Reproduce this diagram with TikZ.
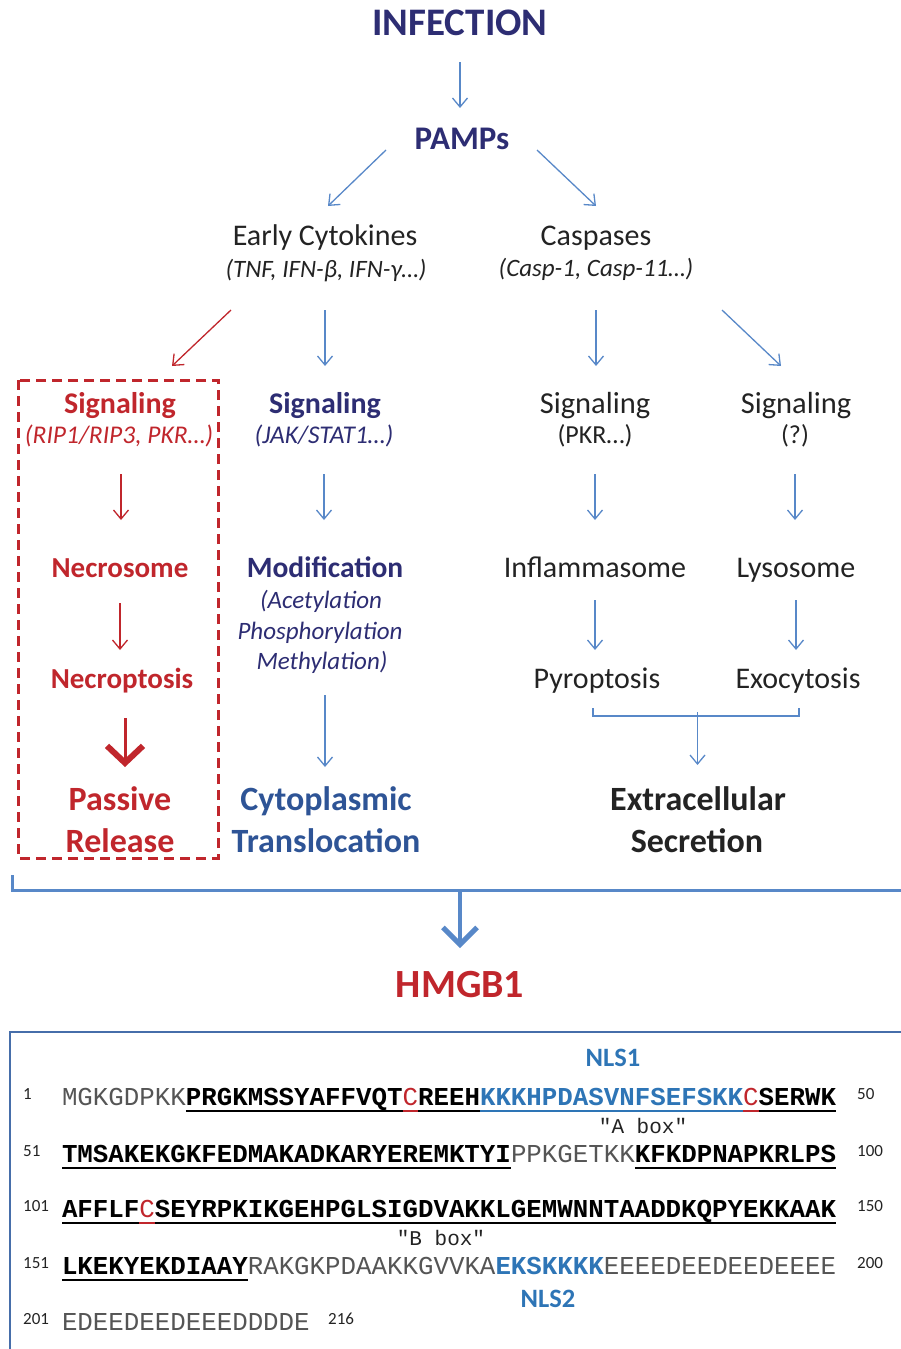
\documentclass[tikz,border=0pt]{standalone}
\usepackage{fontspec}
\setmainfont{Carlito}
\setmonofont{Liberation Mono}
\usetikzlibrary{arrows.meta,calc}
\definecolor{navy}{RGB}{45,45,115}
\definecolor{hred}{RGB}{192,38,44}
\definecolor{steel}{RGB}{46,84,150}
\definecolor{arrblue}{RGB}{88,136,200}
\definecolor{ink}{RGB}{35,35,35}
\definecolor{nlsblue}{RGB}{46,117,182}
\definecolor{boxblue}{RGB}{70,110,170}
\definecolor{seqgray}{RGB}{85,85,85}
\newcommand{\fsz}[1]{\fontsize{#1}{#1}\selectfont}
\newcommand{\seqfont}{\ttfamily\fsz{25.8}}
\tikzset{
  lbl/.style={inner sep=0pt, outer sep=0pt, anchor=base},
  arr/.style={-{Straight Barb[length=9pt,width=15pt]}, line width=1.3pt, arrblue},
  rarr/.style={arr, hred},
  fatarr/.style={-{Straight Barb[length=17pt,width=36pt,line width=6pt]}, line width=3pt, hred},
  bigarr/.style={-{Straight Barb[length=17pt,width=34pt,line width=5pt]}, line width=4.5pt, arrblue},
  aa/.style={inner sep=0pt, outer sep=0pt, anchor=base west, font=\seqfont, text=seqgray},
  aab/.style={aa, font=\seqfont\bfseries, text=black},
  cys/.style={aa, text=hred},
  nls/.style={aab, text=nlsblue},
  ul/.style={line width=2.4pt},
  num/.style={inner sep=0pt, anchor=base west, font=\fsz{17}, text=ink}
}
\begin{document}
\begin{tikzpicture}[x=1pt,y=-1pt]
\useasboundingbox (0,0) rectangle (901,1349);
% top of the cascade
\node[lbl, font=\fsz{39}\bfseries, text=navy] (inf) at (460,35) {INFECTION};
\node[lbl, font=\fsz{33}\bfseries, text=navy] (pamps) at (462,149) {PAMPs};
\node[lbl, font=\fsz{30}, text=ink] (ec) at (325,245) {Early Cytokines};
\node[lbl, font=\fsz{25}\itshape, text=ink] (ecsub) at (326,277) {(TNF, IFN-β, IFN-γ…)};
\node[lbl, font=\fsz{30}, text=ink] (casp) at (596,245) {Caspases};
\node[lbl, font=\fsz{25}\itshape, text=ink] (caspsub) at (596,276) {(Casp-1, Casp-11…)};
% signaling row
\node[lbl, font=\fsz{30}\bfseries, text=hred] (sigR) at (120,413) {Signaling};
\node[lbl, font=\fsz{25.5}\itshape, text=hred] (sigRsub) at (119,443) {(RIP1/RIP3, PKR…)};
\node[lbl, font=\fsz{30}\bfseries, text=navy] (sigN) at (325,413) {Signaling};
\node[lbl, font=\fsz{25.5}\itshape, text=navy] (sigNsub) at (324,443) {(JAK/STAT1…)};
\node[lbl, font=\fsz{30.5}, text=ink] (sigC) at (595,413) {Signaling};
\node[lbl, font=\fsz{26}, text=ink] (sigCsub) at (595,443) {(PKR…)};
\node[lbl, font=\fsz{30.5}, text=ink] (sigL) at (796,413) {Signaling};
\node[lbl, font=\fsz{26}, text=ink] (sigLsub) at (795,443) {(?)};
% middle rows
\node[lbl, font=\fsz{29}\bfseries, text=hred] (necro) at (120,577) {Necrosome};
\node[lbl, font=\fsz{29.5}\bfseries, text=navy] (modif) at (325,577) {Modification};
\node[lbl, font=\fsz{25}\itshape, text=navy] (mod1) at (321,608) {(Acetylation};
\node[lbl, font=\fsz{25}\itshape, text=navy] (mod2) at (320,639) {Phosphorylation};
\node[lbl, font=\fsz{25}\itshape, text=navy] (mod3) at (322,669) {Methylation)};
\node[lbl, font=\fsz{30}, text=ink] (infl) at (595,577) {Inflammasome};
\node[lbl, font=\fsz{30}, text=ink] (lyso) at (796,577) {Lysosome};
\node[lbl, font=\fsz{29}\bfseries, text=hred] (necrop) at (122,688) {Necroptosis};
\node[lbl, font=\fsz{30}, text=ink] (pyro) at (597,688) {Pyroptosis};
\node[lbl, font=\fsz{30}, text=ink] (exo) at (798,688) {Exocytosis};
% outcomes
\node[lbl, font=\fsz{34}\bfseries, text=hred] (passive) at (120,810) {Passive};
\node[lbl, font=\fsz{34}\bfseries, text=hred] (release) at (120,852) {Release};
\node[lbl, font=\fsz{34}\bfseries, text=steel] (cyto) at (326,810) {Cytoplasmic};
\node[lbl, font=\fsz{34}\bfseries, text=steel] (trans) at (326,852) {Translocation};
\node[lbl, font=\fsz{34}\bfseries, text=ink] (extra) at (698,810) {Extracellular};
\node[lbl, font=\fsz{34}\bfseries, text=ink] (secr) at (697,852) {Secretion};
\node[lbl, font=\fsz{40}\bfseries, text=hred] (hmgb) at (460,997) {HMGB1};
\draw[hred, line width=3pt, dash pattern=on 10pt off 6pt] (18,380) rectangle (218,858);
% arrows
\draw[arr] ([yshift=-27pt]inf.base) -- ([yshift=41pt]inf.base |- pamps.base);
\draw[arr] ([xshift=-76pt,yshift=-1pt]pamps.base) -- ([xshift=3pt,yshift=39pt]ec.base);
\draw[arr] ([xshift=75pt,yshift=-1pt]pamps.base) -- ([yshift=39pt]casp.base);
\draw[rarr] ([xshift=-95pt,yshift=-33pt]ecsub.base) -- ([xshift=52pt,yshift=47pt]sigR.base);
\draw[arr] ([xshift=-1pt,yshift=-33pt]ecsub.base) -- ([xshift=-1pt,yshift=47pt]ecsub.base |- sigN.base);
\draw[arr] ([yshift=-34pt]caspsub.base) -- ([yshift=47pt]caspsub.base |- sigC.base);
\draw[arr] ([xshift=126pt,yshift=-34pt]caspsub.base) -- ([xshift=-15pt,yshift=47pt]sigL.base);
\draw[rarr] ([xshift=2pt,yshift=-31pt]sigRsub.base) -- ([xshift=2pt,yshift=57pt]sigRsub.base |- necro.base);
\foreach \a/\b in {sigNsub/modif,sigCsub/infl,sigLsub/lyso}
  \draw[arr] ([yshift=-31pt]\a.base) -- ([yshift=57pt]\a.base |- \b.base);
\draw[rarr] ([yshift=-26pt]necro.base) -- ([yshift=38pt]necro.base |- necrop.base);
\foreach \a/\b in {infl/pyro,lyso/exo}
  \draw[arr] ([yshift=-23pt]\a.base) -- ([yshift=38pt]\a.base |- \b.base);
\draw[arr] ([xshift=3pt,yshift=-26pt]mod3.base) -- ([xshift=3pt,yshift=43pt]mod3.base |- cyto.base);
\draw[fatarr] ([xshift=3pt,yshift=-30pt]necrop.base) -- ([xshift=3pt,yshift=43pt]necrop.base |- passive.base);
% bracket under pyroptosis / exocytosis
\coordinate (brk) at ($(pyro.base)!0.5!(exo.base)$);
\draw[arrblue, line width=1.3pt] ([xshift=-4pt,yshift=-20pt]pyro.base) -- ++(0,8) -- ([xshift=1pt,yshift=-28pt]exo.base) -- ++(0,-8);
\draw[arr] ([yshift=-24pt]brk) -- ([yshift=45pt]brk |- extra.base);
% big bracket to HMGB1
\coordinate (hub) at (460,890);
\draw[arrblue, line width=3pt] (12,875) |- (905,890);
\draw[bigarr] (hub) -- ([yshift=49pt]hub |- hmgb.base);
% sequence box
\draw[boxblue, line width=2.5pt] (10,1360) |- (910,1032);
\node[lbl, font=\fsz{26.5}\bfseries, text=nlsblue] (nls1) at (613,1066) {NLS1};
\node[lbl, font=\fsz{26.5}\bfseries, text=nlsblue] (nls2) at (548,1307) {NLS2};
\node[lbl, font=\ttfamily\fsz{21}, text=ink] (abox) at (643,1133) {"A box"};
\node[lbl, font=\ttfamily\fsz{21}, text=ink] (bbox) at (441,1245) {"B box"};
\foreach \n/\y in {1/1099,51/1156,101/1211,151/1268,201/1324}
  \node[num] (l\n) at (23,\y) {\n};
\foreach \n/\x/\y in {50/857/1099,100/857/1156,150/857/1211,200/857/1268,216/328/1324}
  \node[num] (r\n) at (\x,\y) {\n};
% residues 1-50
\node[aa] (r1a) at (62,1105) {MGKGDPKK};
\node[aab] (r1b) at (r1a.base east) {PRGKMSSYAFFVQT};
\node[cys] (r1c) at (r1b.base east) {C};
\node[aab] (r1d) at (r1c.base east) {REEH};
\node[nls] (r1e) at (r1d.base east) {KKKHPDASVNFSEFSKK};
\node[cys] (r1f) at (r1e.base east) {C};
\node[aab] (r1g) at (r1f.base east) {SERWK};
% residues 51-100
\node[aab] (r2a) at (62,1162) {TMSAKEKGKFEDMAKADKARYEREMKTYI};
\node[aa] (r2b) at (r2a.base east) {PPKGETKK};
\node[aab] (r2c) at (r2b.base east) {KFKDPNAPKRLPS};
% residues 101-150
\node[aab] (r3a) at (62,1217) {AFFLF};
\node[cys] (r3b) at (r3a.base east) {C};
\node[aab] (r3c) at (r3b.base east) {SEYRPKIKGEHPGLSIGDVAKKLGEMWNNTAADDKQPYEKKAAK};
% residues 151-216
\node[aab] (r4a) at (62,1274) {LKEKYEKDIAAY};
\node[aa] (r4b) at (r4a.base east) {RAKGKPDAAKKGVVKA};
\node[nls] (r4c) at (r4b.base east) {EKSKKKK};
\node[aa] (r4d) at (r4c.base east) {EEEEDEEDEEDEEEE};
\node[aa] (r5a) at (62,1330) {EDEEDEEDEEEDDDDE};
\foreach \s/\c in {r1b/black,r1c/hred,r1d/black,r1e/nlsblue,r1f/hred,r1g/black,r2a/black,r2c/black,r3a/black,r3b/hred,r3c/black,r4a/black}
  \draw[ul,\c] ([yshift=-6pt]\s.base west) -- ([yshift=-6pt]\s.base east);
\end{tikzpicture}
\end{document}
